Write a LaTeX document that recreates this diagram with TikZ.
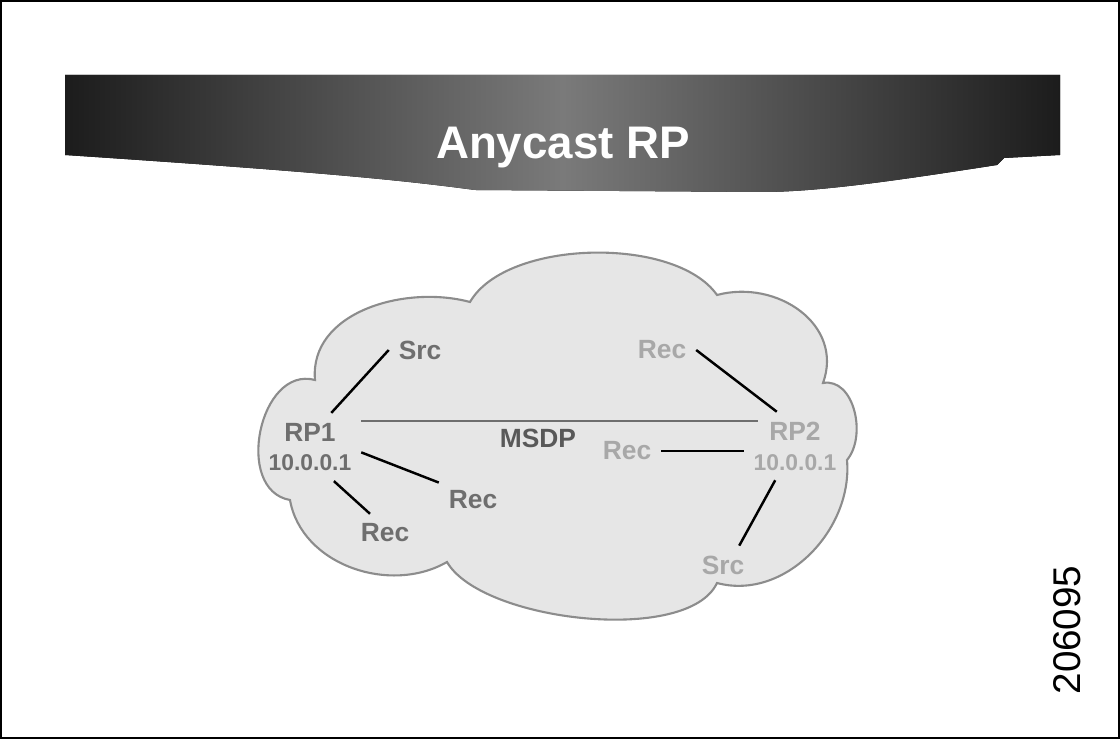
\documentclass[tikz,border=0pt]{standalone}
\usepackage{fontspec}
\setmainfont{Liberation Sans}
\usetikzlibrary{positioning,calc}
\definecolor{cloudfill}{HTML}{E6E6E6}
\definecolor{cloudline}{HTML}{8C8C8C}
\definecolor{neargray}{HTML}{6E6E6E}
\definecolor{fargray}{HTML}{A8A8A8}
\definecolor{bandedge}{HTML}{1C1C1C}
\definecolor{bandmid}{HTML}{7A7A7A}
\newcommand{\ipsize}{\fontsize{13}{15}\selectfont}
\tikzset{
  cloudpart/.style={fill=cloudfill,draw=cloudline,line width=1.2pt},
  devlab/.style={font=\fontsize{15}{17}\selectfont\bfseries,inner sep=5.5pt},
  devnear/.style={devlab,text=neargray},
  devfar/.style={devlab,text=fargray},
  rpnode/.style={align=center},
  lnk/.style={black,line width=1.4pt},
  msdplnk/.style={draw=neargray,line width=1.1pt},
  titlelab/.style={font=\fontsize{26}{30}\selectfont\bfseries,text=white}
}

\begin{document}
\begin{tikzpicture}[x=0.02cm,y=0.02cm]
  \useasboundingbox (0,0) rectangle (1120,-739);
  \draw[line width=1pt] (1,-1) rectangle (1119,-738);
  \fill[left color=bandedge,right color=bandedge,middle color=bandmid]
    (65,-75) -- (1060,-75) -- (1060,-155) -- (1004,-158) -- (997,-165)
    .. controls (900,-180) and (820,-192) .. (762,-192)
    -- (475,-190) .. controls (400,-180) and (320,-172) .. (65,-155) -- cycle;
  \node[titlelab] (ttl) at (563,-148) {Anycast RP};
  \draw[cloudpart] (315,-380) to[out=95,in=165] (470,-302)
    to[out=60,in=125,looseness=0.75] (717,-295) to[out=15,in=70,looseness=1.15] (823,-383)
    to[out=10,in=50] (847,-460) to[out=-85,in=-15] (717,-583)
    to[out=-115,in=-60,looseness=0.65] (447,-562) to[out=-150,in=-80] (290,-500)
    to[out=170,in=165,looseness=1.2] cycle;
  \node[devnear,rpnode] (rp1) at (310,-447) {RP1\\{\ipsize 10.0.0.1}};
  \node[devfar,rpnode] (rp2) at (795,-446) {RP2\\{\ipsize 10.0.0.1}};
  \node[devnear] (src1) at (420,-350) {Src};
  \node[devnear] (rec1) at (473,-500) {Rec};
  \node[devnear] (rec2) at (385,-533) {Rec};
  \node[devfar] (rec3) at (662,-350) {Rec};
  \node[devfar] (rec4) at (627,-451) {Rec};
  \node[devfar] (src2) at (723,-565) {Src};
  \node[devlab,text=black!65] (msdp) at (538,-438) {MSDP};
  \draw[msdplnk] (rp1.27) -- (rp1.27 -| rp2.137);
  \draw[lnk] (rp1.58) -- (src1.west);
  \draw[lnk] (rp1.-6) -- (rec1.153);
  \draw[lnk] (rp1.-55) -- (rec2.128);
  \draw[lnk] (rec3.east) -- (rp2.118);
  \draw[lnk] (rec4.east) -- (rec4.east -| rp2.west);
  \draw[lnk] (rp2.240) -- (src2.50);
  \node[rotate=90,font=\fontsize{22}{24}\selectfont] (fig) at (1067,-630) {206095};
\end{tikzpicture}
\end{document}
